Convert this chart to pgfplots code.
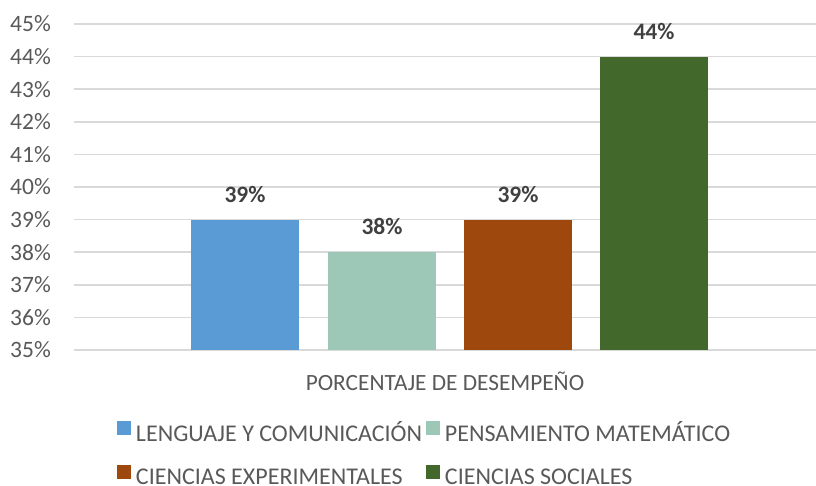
\documentclass[border=0pt]{standalone}
\usepackage{fontspec}
\setmainfont{Carlito}
\usepackage{pgfplots}
\pgfplotsset{compat=1.18}
\definecolor{cBlue}{HTML}{5B9BD5}
\definecolor{cMint}{HTML}{9DC8B7}
\definecolor{cBrown}{HTML}{9E480E}
\definecolor{cGreen}{HTML}{43682B}
\definecolor{gridgray}{HTML}{D9D9D9}
\definecolor{txtgray}{HTML}{595959}
\definecolor{lblgray}{HTML}{404040}
\pgfplotsset{
  sqlegend/.style={legend image code/.code={%
    \fill[##1,draw=none] (0pt,0pt) rectangle (14pt,14pt);
    \path (19pt,0pt);}},
}
\begin{document}
\begin{tikzpicture}
\begin{axis}[
  at={(0pt,0pt)}, anchor=south west,
  scale only axis, width=742pt, height=326pt,
  xmin=0, xmax=742, ymin=35, ymax=45,
  ytick={35,36,37,38,39,40,41,42,43,44,45},
  yticklabels={35\%,36\%,37\%,38\%,39\%,40\%,41\%,42\%,43\%,44\%,45\%},
  xtick={371}, xticklabels={PORCENTAJE DE DESEMPEÑO},
  /pgf/number format/assume math mode=true,
  axis line style={draw=none},
  tick style={draw=none},
  ymajorgrids,
  major grid style={draw=gridgray, line width=1.5pt},
  yticklabel style={font=\fontsize{23.5}{27}\selectfont, text=txtgray, anchor=east, inner sep=0pt, xshift=-23pt},
  xticklabel style={font=\fontsize{23.3}{27}\selectfont, text=txtgray, anchor=north, inner sep=0pt, yshift=-17pt},
  ybar, bar shift=0pt, bar width=108,
  nodes near coords={\pgfmathprintnumber{\pgfplotspointmeta}\%},
  every node near coord/.append style={font=\bfseries\fontsize{23.5}{27}\selectfont, text=lblgray, anchor=south, inner sep=0pt, yshift=17pt},
  legend columns=2,
  legend cell align=left,
  legend style={at={(43/742,-71/326)}, anchor=north west, draw=none, fill=none, inner sep=0pt, outer sep=0pt,
    font=\fontsize{24}{27}\selectfont, text=txtgray, row sep=20.5pt, column sep=0pt,
    nodes={inner sep=0pt, text height=15pt, text depth=3pt}},
]
\addplot[fill=cBlue, draw=none, sqlegend] coordinates {(171,39)};
\addlegendentry{\makebox[290pt][l]{LENGUAJE Y COMUNICACIÓN}}
\addplot[fill=cMint, draw=none, sqlegend] coordinates {(308,38)};
\addlegendentry{PENSAMIENTO MATEMÁTICO}
\addplot[fill=cBrown, draw=none, sqlegend] coordinates {(444,39)};
\addlegendentry{\makebox[290pt][l]{CIENCIAS EXPERIMENTALES}}
\addplot[fill=cGreen, draw=none, sqlegend] coordinates {(580,44)};
\addlegendentry{CIENCIAS SOCIALES}
\end{axis}
\pgfresetboundingbox
\path[use as bounding box] (-74pt,-135pt) rectangle (742pt,350pt);
\end{tikzpicture}
\end{document}
